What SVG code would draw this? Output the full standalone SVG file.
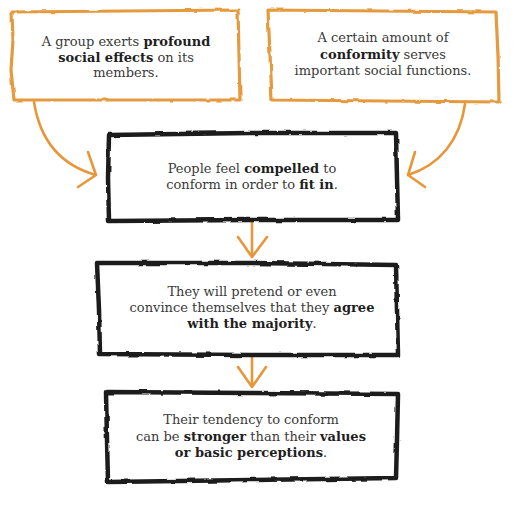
<svg xmlns="http://www.w3.org/2000/svg" width="522" height="506" viewBox="0 0 522 506">
<defs>
<filter id="rough" x="-5%" y="-5%" width="110%" height="110%">
<feTurbulence type="fractalNoise" baseFrequency="0.08" numOctaves="2" seed="3" result="n"/>
<feDisplacementMap in="SourceGraphic" in2="n" scale="3" xChannelSelector="R" yChannelSelector="G"/>
</filter>
</defs>
<style>
.bg{fill:#ffffff}
.ob{fill:#ffffff;stroke:#e49a3c;stroke-width:3.2;stroke-linejoin:round}
.bb{fill:#ffffff;stroke:#1c1c1c;stroke-width:4.5;stroke-linejoin:round}
.ar{fill:none;stroke:#e8963a;stroke-width:2.6;stroke-linecap:round;stroke-linejoin:round}
text{font-family:"DejaVu Serif","Liberation Serif",serif;font-size:13px;fill:#3a3a3a;text-anchor:middle}
.b{font-weight:bold;fill:#1e1e1e}
</style>
<rect class="bg" x="0" y="0" width="522" height="506"/>
<g id="connectors">
<path class="ar" d="M34,102 C40,140 60,165 96,175 M88,152 L96,175 L78,187"/>
<path class="ar" d="M465,104 C460,140 440,165 408,175 M415,152 L408,175 L425,187"/>
<path class="ar" d="M252,222 L252,257 M238,237 L252,257 L267,237"/>
<path class="ar" d="M252,357 L252,387 M238,367 L252,387 L266,367"/>
</g>
<g id="node1">
<path class="ob" filter="url(#rough)" d="M12,12 L125,11 L238,10 L239,55 L240,100 L125,100 L14,100 L11,70 L13,40 Z"/>
<text x="126" y="46">A group exerts <tspan class="b">profound</tspan></text>
<text x="126" y="62"><tspan class="b">social effects</tspan> on its</text>
<text x="126" y="77">members.</text>
</g>
<g id="node2">
<path class="ob" filter="url(#rough)" d="M268,10 L380,11 L496,12 L498,55 L499,102 L385,101 L272,100 L270,55 Z"/>
<text x="383" y="42">A certain amount of</text>
<text x="383" y="59"><tspan class="b">conformity</tspan> serves</text>
<text x="383" y="75">important social functions.</text>
</g>
<g id="node3">
<path class="bb" filter="url(#rough)" d="M109,135 L250,133 L396,133 L397,178 L398,220 L250,220 L109,221 L108,178 Z"/>
<text x="252" y="173">People feel <tspan class="b">compelled</tspan> to</text>
<text x="252" y="189">conform in order to <tspan class="b">fit in</tspan>.</text>
</g>
<g id="node4">
<path class="bb" filter="url(#rough)" d="M97,263 L250,263 L396,265 L397,310 L398,355 L250,355 L100,354 L99,310 Z"/>
<text x="252" y="296">They will pretend or even</text>
<text x="252" y="312">convince themselves that they <tspan class="b">agree</tspan></text>
<text x="252" y="328"><tspan class="b">with the majority</tspan>.</text>
</g>
<g id="node5">
<path class="bb" filter="url(#rough)" d="M106,392 L250,393 L398,394 L397,440 L396,478 L250,480 L108,482 L107,440 Z"/>
<text x="251" y="424">Their tendency to conform</text>
<text x="251" y="441">can be <tspan class="b">stronger</tspan> than their <tspan class="b">values</tspan></text>
<text x="251" y="457"><tspan class="b">or basic perceptions</tspan>.</text>
</g>
</svg>
